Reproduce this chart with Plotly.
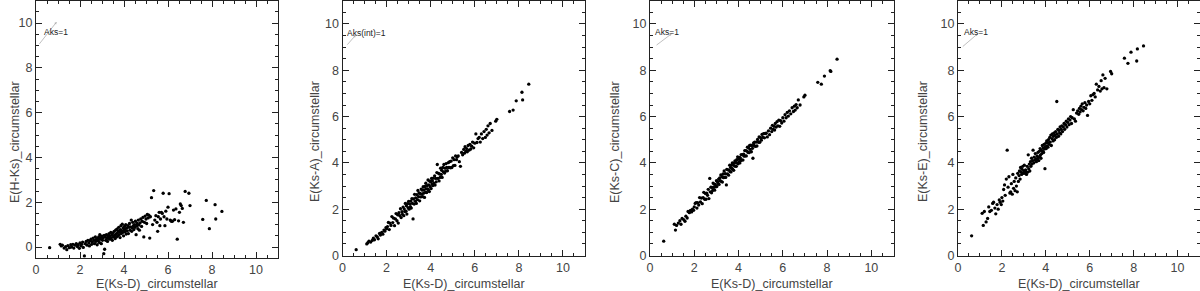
import plotly.graph_objects as go

# Shared abscissa: E(Ks-D)_circumstellar
x_ksd = [
    0.62, 1.10, 1.15, 1.20, 1.28, 1.35, 1.40, 1.45, 1.52, 1.58,
    1.62, 1.68, 1.72, 1.78, 1.83, 1.88, 1.92, 1.97, 2.00, 2.04,
    2.08, 2.12, 2.15, 2.20, 2.24, 2.28, 2.32, 2.36, 2.40, 2.43,
    2.47, 2.50, 2.53, 2.56, 2.60, 2.63, 2.66, 2.70, 2.72, 2.75,
    2.78, 2.80, 2.83, 2.85, 2.88, 2.90, 2.92, 2.95, 2.97, 3.00,
    3.02, 3.05, 3.08, 3.10,
    3.12, 3.15, 3.17, 3.20, 3.22, 3.25, 3.27, 3.30, 3.32, 3.35,
    3.37, 3.40, 3.42, 3.45, 3.47, 3.50, 3.52, 3.55, 3.57, 3.60,
    3.62, 3.64, 3.66, 3.68, 3.70, 3.72, 3.74, 3.76, 3.78, 3.80,
    3.82, 3.84, 3.86, 3.88, 3.90, 3.92, 3.94, 3.96, 3.98, 4.00,
    4.02, 4.04, 4.06, 4.08, 4.10, 4.12,
    4.15, 4.18, 4.20, 4.23, 4.25, 4.28, 4.30, 4.33, 4.35, 4.38,
    4.40, 4.43, 4.45, 4.48, 4.50, 4.52, 4.55, 4.58, 4.60, 4.63,
    4.65, 4.68, 4.70, 4.73, 4.76, 4.80, 4.83, 4.86, 4.90, 4.93,
    4.96, 5.00, 5.03, 5.06, 5.10, 5.13, 5.17, 5.20,
    5.25, 5.30, 5.35, 5.40, 5.45, 5.50, 5.53, 5.56, 5.60, 5.63,
    5.66, 5.70, 5.74, 5.78, 5.82, 5.86, 5.90, 5.95, 6.00, 6.05,
    6.10, 6.15,
    6.20, 6.25, 6.30, 6.36, 6.42, 6.48, 6.52, 6.56, 6.60, 6.65,
    6.70, 6.78, 6.95, 7.00,
    7.58, 7.74, 7.88, 8.14, 8.17, 8.45,
]

# E(H-Ks)_circumstellar
y_hks = [
    -0.03, 0.12, 0.05, 0.08, -0.05, 0.02, -0.12, 0.06, -0.03, 0.10,
    0.00, 0.12, -0.05, 0.08, 0.15, 0.02, 0.10, -0.06, 0.18, 0.05,
    0.12, 0.22, -0.02, -0.40, 0.15, 0.25, 0.08, 0.30, 0.18, 0.05,
    0.28, 0.35, 0.12, 0.22, 0.40, 0.30, 0.15, 0.45, 0.25, 0.35,
    0.10, 0.38, 0.28, 0.45, 0.20, 0.55, 0.35, 0.42, 0.15, 0.48,
    0.30, 0.40, -0.30, 0.52,
    -0.10, 0.45, 0.30, 0.55, 0.38, 0.25, 0.50, 0.42, 0.60, 0.35,
    0.48, 0.65, 0.40, 0.55, 0.30, 0.62, 0.45, 0.70, 0.52, 0.38,
    0.75, 0.58, 0.45, 0.80, 0.62, 0.50, 0.72, 0.88, 0.55, 0.68,
    0.42, 0.78, 0.95, 0.60, 0.72, 1.02, 0.65, 0.85, 0.50, 0.75,
    0.92, 0.68, 0.80, 1.00, 0.58, 0.85,
    0.72, 0.95, 0.60, 0.88, 1.05, 0.75, 0.90, 1.20, 0.70, 0.85,
    1.10, 0.95, 0.78, 1.00, 0.88, 1.15, 0.55, 0.95, 1.05, 0.82,
    1.20, 0.98, 0.75, 1.08, 1.25, 0.92, 1.15, 1.32, 0.45, 1.10,
    1.38, 1.25, 1.05, 1.45, 1.30, 1.42, 0.40, 1.35,
    2.20, 1.00, 2.52, 1.20, 1.40, 1.10, 0.70, 1.35, 1.55, 0.95,
    1.25, 1.55, 1.50, 2.40, 1.35, 0.95, 1.60, 1.25, 1.78, 2.38,
    1.20, 1.15,
    1.15, 1.65, 1.22, 1.70, 0.35, 1.17, 1.55, 1.92, 1.85, 1.72,
    1.10, 2.48, 2.40, 1.85,
    1.23, 2.08, 0.82, 1.89, 1.25, 1.59,
]

# E(Ks-A)_circumstellar
y_ksa = [
    0.25, 0.50, 0.55, 0.62, 0.58, 0.65, 0.75, 0.68, 0.85, 0.80,
    0.72, 0.95, 0.88, 1.00, 0.92, 1.10, 1.05, 1.20, 1.15, 1.25,
    1.43, 1.12, 1.40, 1.30, 1.68, 1.42, 1.61, 1.29, 1.58, 1.81,
    1.50, 1.76, 1.40, 1.85, 1.72, 2.02, 1.64, 1.89, 1.78, 2.09,
    1.72, 2.01, 1.90, 2.25, 1.91, 2.15, 1.79, 2.24, 2.07, 2.34,
    2.00, 2.23, 2.11, 2.35,
    2.05, 2.46, 2.25, 1.58, 2.44, 2.22, 2.64, 2.34, 2.49, 2.25,
    2.63, 2.41, 2.81, 2.54, 2.70, 2.36, 2.68, 2.53, 2.87, 2.65,
    2.82, 2.54, 2.97, 2.69, 2.83, 2.51, 2.98, 2.73, 3.12, 2.88,
    2.72, 3.02, 2.88, 3.26, 2.83, 3.05, 2.76, 3.21, 2.97, 3.19,
    2.89, 3.33, 3.09, 3.22, 3.02, 3.34,
    3.11, 3.44, 3.04, 3.33, 3.18, 3.58, 3.93, 3.33, 3.55, 3.22,
    3.52, 3.37, 3.77, 3.50, 3.68, 3.37, 3.80, 3.61, 3.93, 3.56,
    3.77, 3.64, 3.97, 3.80, 3.66, 4.01, 3.80, 4.05, 3.79, 4.08,
    3.80, 4.22, 3.88, 4.14, 3.89, 4.30, 4.14, 4.25,
    4.30, 4.05, 3.85, 4.45, 4.35, 4.58, 4.42, 4.70, 4.50, 4.62,
    4.48, 4.75, 4.55, 4.80, 4.60, 4.72, 4.90, 4.65, 4.85, 5.25,
    4.88, 5.05,
    5.10, 4.90, 5.25, 5.05, 5.35, 5.10, 5.45, 5.20, 5.60, 5.30,
    5.70, 5.40, 5.80, 5.88,
    6.22, 6.28, 6.68, 7.05, 6.72, 7.40,
]

# E(Ks-C)_circumstellar
y_ksc = [
    0.62, 1.35, 1.10, 1.30, 1.40, 1.50, 1.35, 1.60, 1.55, 1.48,
    1.70, 1.62, 1.90, 1.85, 1.95, 1.88, 2.00, 1.95, 2.10, 2.25,
    2.28, 2.05, 2.28, 2.18, 2.50, 2.31, 2.48, 2.24, 2.50, 2.73,
    2.43, 2.68, 2.43, 2.69, 2.60, 2.86, 2.46, 3.33, 2.75, 2.95,
    2.71, 2.94, 2.81, 3.13, 2.94, 3.08, 2.82, 3.07, 2.97, 3.23,
    2.98, 3.19, 3.11, 3.30,
    3.07, 3.35, 3.23, 3.48, 3.20, 3.40, 3.17, 3.52, 3.36, 3.65,
    3.37, 3.53, 3.37, 3.05, 3.72, 3.52, 3.70, 3.47, 3.69, 3.90,
    3.62, 3.80, 3.61, 3.90, 3.76, 4.00, 3.72, 3.91, 3.68, 4.00,
    3.86, 4.09, 3.86, 4.02, 3.85, 4.14, 3.99, 4.26, 3.96, 4.16,
    4.04, 4.24, 4.00, 4.21, 4.10, 4.36,
    4.13, 4.36, 4.12, 4.38, 4.29, 4.53, 4.30, 4.53, 4.30, 4.51,
    4.68, 4.45, 4.65, 4.44, 4.75, 4.58, 4.77, 4.48, 4.75, 4.63,
    4.20, 4.86, 4.75, 4.90, 4.71, 4.90, 4.73, 5.01, 4.89, 5.12,
    4.89, 5.09, 4.98, 5.23, 5.10, 5.26, 5.08, 5.27,
    5.28, 5.12, 5.38, 5.22, 5.50, 5.35, 5.62, 5.45, 5.58, 5.42,
    5.70, 5.55, 5.78, 5.60, 5.85, 5.58, 5.82, 5.72, 5.95, 5.80,
    6.08, 5.95,
    6.18, 6.02, 6.25, 6.12, 6.38, 6.22, 6.45, 6.28, 6.52, 6.38,
    6.72, 6.50, 6.85, 6.92,
    7.48, 7.40, 7.75, 7.98, 7.95, 8.48,
]

# E(Ks-E)_circumstellar
y_kse = [
    0.85, 1.82, 1.30, 1.90, 1.45, 1.60, 2.10, 1.90, 1.95, 2.25,
    2.30, 2.05, 1.80, 2.20, 2.00, 2.40, 2.30, 2.20, 2.50, 2.35,
    2.85, 3.05, 2.60, 3.30, 4.55, 2.95, 3.40, 2.70, 2.75, 3.10,
    2.65, 3.50, 2.90, 3.20, 2.80, 3.35, 3.00, 2.75, 3.55, 3.20,
    3.45, 3.65, 3.30, 3.80, 3.60, 3.50, 3.72, 3.85, 3.55, 3.65,
    3.90, 3.55, 3.70, 3.60,
    3.50, 3.85, 3.60, 4.35, 3.75, 3.95, 3.65, 4.05, 3.85, 4.20,
    3.95, 4.10, 4.55, 4.00, 4.25, 4.12, 4.40, 4.18, 4.05, 4.30,
    4.15, 4.45, 4.22, 4.10, 4.50, 4.28, 4.62, 4.35, 4.20, 4.55,
    4.40, 4.75, 4.50, 4.65, 4.45, 4.80, 4.60, 3.75, 4.70, 4.85,
    4.62, 4.95, 4.72, 4.88, 4.68, 5.00,
    4.80, 5.10, 4.90, 5.20, 4.75, 5.05, 5.25, 4.95, 5.15, 5.30,
    5.00, 5.20, 5.35, 5.10, 6.65, 5.25, 5.45, 5.15, 5.40, 5.30,
    5.55, 5.25, 5.45, 5.60, 5.35, 5.55, 5.70, 5.45, 5.65, 5.80,
    5.55, 5.75, 5.90, 5.65, 5.85, 6.00, 5.70, 5.95,
    6.30, 5.90, 5.80, 6.15, 6.25, 6.10, 6.35, 6.20, 6.45, 6.30,
    6.55, 6.25, 6.40, 6.60, 6.35, 6.50, 6.05, 6.65, 6.55, 6.90,
    6.70, 6.95,
    7.00, 6.85, 7.40, 7.15, 7.30, 7.10, 7.55, 7.20, 7.80, 7.25,
    7.65, 7.20, 7.95, 7.85,
    8.52, 8.30, 8.78, 8.40, 8.92, 9.05,
]

y_titles = ["E(H-Ks)_circumstellar", "E(Ks-A)_circumstellar",
            "E(Ks-C)_circumstellar", "E(Ks-E)_circumstellar"]
x_title = "E(Ks-D)_circumstellar"
tick_vals = [0, 2, 4, 6, 8, 10]
tick_text = ["0", "2", "4", "6", "8", "10"]
ext_labels = ["Aks=1", "Aks(int)=1", "Aks=1", "Aks=1"]

W, H = 1200, 291
x_px = [(36, 278), (342.5, 585), (650, 893.5), (958, 1199.5)]
y_px = [(0.6, 258.2), (0.8, 255.5), (0.8, 255.5), (0.8, 255.5)]
y_ranges = [[-0.5, 11], [0, 11], [0, 11], [0, 11]]
ytitle_px = [15, 315, 615, 923]
arrow_tail = [(0.10, 9.0), (0.16, 9.04), (0.23, 9.04), (0.15, 8.97)]
arrow_head = [(0.94, 10.05), (0.60, 9.52), (0.98, 9.58), (0.90, 9.58)]
label_pos = [(0.26, 9.6), (0.11, 9.6), (0.15, 9.64), (0.20, 9.64)]

FONT = "Liberation Sans"
TXT = "#444"
LINE = "#222"

fig = go.Figure()
series = [y_hks, y_ksa, y_ksc, y_kse]
annotations = []
for i, ys in enumerate(series):
    sfx = "" if i == 0 else str(i + 1)
    fig.add_trace(go.Scatter(
        x=x_ksd, y=ys, mode="markers",
        marker=dict(size=3.3, color="black", line=dict(width=0)),
        xaxis="x" + sfx, yaxis="y" + sfx, showlegend=False, hoverinfo="skip"))
    common = dict(
        showline=True, linecolor=LINE, linewidth=1, mirror="ticks",
        ticks="inside", ticklen=6, tickwidth=1, tickcolor=LINE,
        showgrid=False, zeroline=False, automargin=False,
        tickvals=tick_vals, ticktext=tick_text,
        tickfont=dict(family=FONT, size=12.5, color=TXT),
        minor=dict(ticks="inside", ticklen=3, tickwidth=1, tickcolor=LINE,
                   dtick=0.5, tick0=0, showgrid=False),
    )
    x0, x1 = x_px[i]
    yt, yb = y_px[i]
    fig.update_layout(**{
        "xaxis" + sfx: dict(common, range=[0, 11],
                            domain=[x0 / W, x1 / W], anchor="y" + sfx),
        "yaxis" + sfx: dict(common, range=y_ranges[i],
                            domain=[(H - yb) / H, (H - yt) / H], anchor="x" + sfx),
    })
    xr, yr = "x" + sfx, "y" + sfx
    annotations.append(dict(
        x=arrow_head[i][0], y=arrow_head[i][1], ax=arrow_tail[i][0], ay=arrow_tail[i][1],
        xref=xr, yref=yr, axref=xr, ayref=yr, text="", showarrow=True,
        arrowhead=2, arrowsize=0.6, arrowwidth=0.8, arrowcolor="#b0b0b0"))
    annotations.append(dict(
        x=label_pos[i][0], y=label_pos[i][1], xref=xr, yref=yr, text=ext_labels[i],
        showarrow=False, xanchor="left", yanchor="middle",
        font=dict(family=FONT, size=8.5, color="#222")))
    annotations.append(dict(
        x=(x0 + x1) / 2 / W, y=(H - 284) / H, xref="paper", yref="paper",
        text=x_title, showarrow=False, xanchor="center", yanchor="middle",
        font=dict(family=FONT, size=12.5, color=TXT)))
    annotations.append(dict(
        x=ytitle_px[i] / W, y=(H - 142) / H, xref="paper", yref="paper",
        text=y_titles[i], showarrow=False, xanchor="center", yanchor="middle",
        textangle=-90, font=dict(family=FONT, size=12.5, color=TXT)))

fig.update_layout(
    width=W, height=H, margin=dict(l=0, r=0, t=0, b=0),
    paper_bgcolor="white", plot_bgcolor="white",
    annotations=annotations,
)
fig.write_html(
    "out.html",
    config={"displayModeBar": False, "staticPlot": True},
    post_script="document.body.style.margin='0px';document.body.style.overflow='hidden';",
)
